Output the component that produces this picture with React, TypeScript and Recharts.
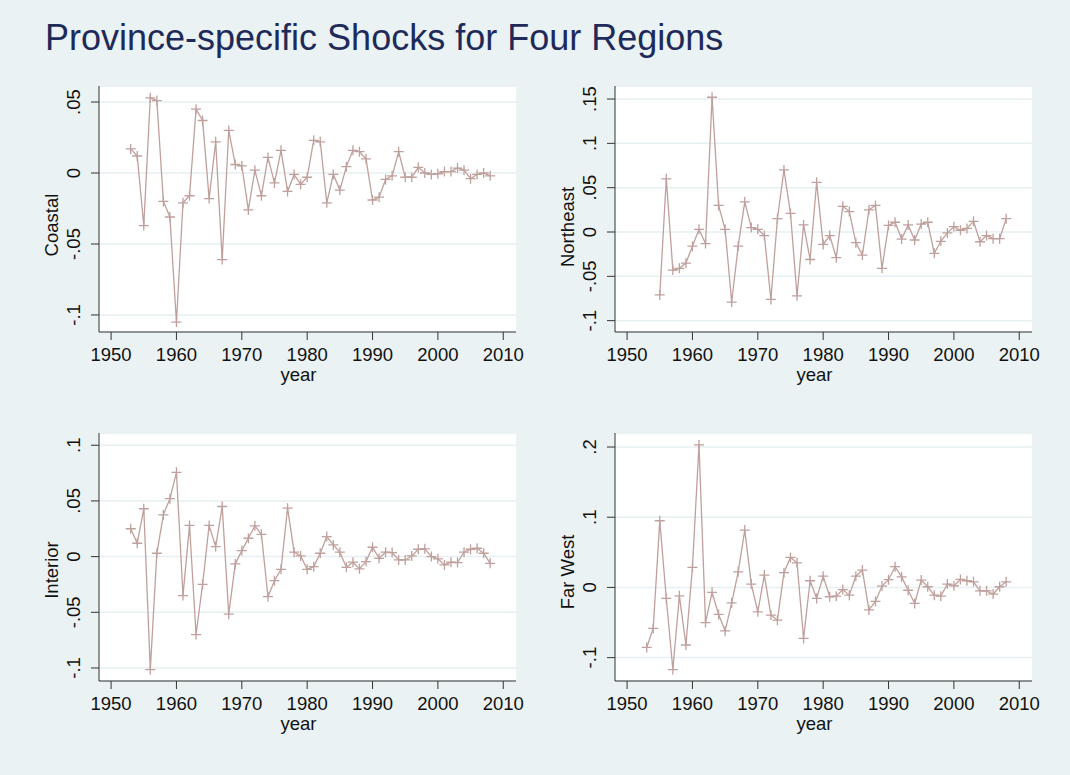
import React from 'react';
import { LineChart, Line, XAxis, YAxis, CartesianGrid, Label } from 'recharts';

const years = [
  1953, 1954, 1955, 1956, 1957, 1958, 1959, 1960, 1961, 1962,
  1963, 1964, 1965, 1966, 1967, 1968, 1969, 1970, 1971, 1972,
  1973, 1974, 1975, 1976, 1977, 1978, 1979, 1980, 1981, 1982,
  1983, 1984, 1985, 1986, 1987, 1988, 1989, 1990, 1991, 1992,
  1993, 1994, 1995, 1996, 1997, 1998, 1999, 2000, 2001, 2002,
  2003, 2004, 2005, 2006, 2007, 2008,
];

// 1953-2008
const coastal = [
  0.017, 0.012, -0.037, 0.053, 0.051, -0.02, -0.031, -0.105, -0.021, -0.016,
  0.045, 0.037, -0.018, 0.022, -0.061, 0.03, 0.006, 0.005, -0.026, 0.002,
  -0.016, 0.011, -0.007, 0.016, -0.013, -0.001, -0.008, -0.003, 0.023, 0.022,
  -0.021, -0.001, -0.012, 0.0045, 0.016, 0.015, 0.01, -0.019, -0.017, -0.0045,
  -0.002, 0.015, -0.003, -0.003, 0.004, 0.0, -0.001, -0.0005, 0.001, 0.001,
  0.0035, 0.002, -0.004, -0.001, 0.0, -0.002,
];

// 1955-2008
const northeast = [
  -0.071, 0.06, -0.043, -0.041, -0.035, -0.016, 0.003, -0.013, 0.152, 0.03,
  0.003, -0.079, -0.016, 0.034, 0.005, 0.003, -0.004, -0.076, 0.015, 0.07,
  0.021, -0.072, 0.008, -0.031, 0.056, -0.014, -0.004, -0.029, 0.029, 0.023,
  -0.012, -0.026, 0.025, 0.03, -0.041, 0.0075, 0.011, -0.008, 0.008, -0.009,
  0.009, 0.011, -0.024, -0.0105, -0.001, 0.006, 0.002, 0.004, 0.012, -0.011,
  -0.004, -0.0075, -0.0075, 0.015,
];

// 1953-2008
const interior = [
  0.025, 0.012, 0.043, -0.1015, 0.003, 0.0375, 0.052, 0.0757, -0.035, 0.028,
  -0.07, -0.025, 0.028, 0.009, 0.045, -0.0517, -0.0066, 0.0054, 0.0165, 0.0276,
  0.02, -0.036, -0.0216, -0.0114, 0.0435, 0.004, 0.0006, -0.0114, -0.009, 0.003,
  0.018, 0.0105, 0.004, -0.0096, -0.005, -0.011, -0.0045, 0.0084, -0.0015, 0.004,
  0.0036, -0.003, -0.003, 0.0006, 0.0066, 0.007, 0.0, -0.002, -0.0075, -0.005,
  -0.0054, 0.004, 0.0066, 0.0075, 0.003, -0.006,
];

// 1953-2008
const farWest = [
  -0.0855, -0.0584, 0.095, -0.0157, -0.117, -0.012, -0.082, 0.0285, 0.203, -0.05,
  -0.007, -0.0385, -0.062, -0.022, 0.0223, 0.0817, 0.0048, -0.0347, 0.0176, -0.0394,
  -0.0466, 0.021, 0.0428, 0.035, -0.0727, 0.0095, -0.0157, 0.016, -0.0133, -0.0124,
  -0.003, -0.011, 0.016, 0.0247, -0.032, -0.02, 0.002, 0.011, 0.0295, 0.015,
  -0.004, -0.0228, 0.0105, 0.001, -0.011, -0.0124, 0.0048, 0.0024, 0.0114, 0.0095,
  0.008, -0.0048, -0.0048, -0.0095, 0.001, 0.008,
];

const xTicks = [1950, 1960, 1970, 1980, 1990, 2000, 2010];
const coastalTicks = [-0.1, -0.05, 0, 0.05];
const northeastTicks = [-0.1, -0.05, 0, 0.05, 0.1, 0.15];
const interiorTicks = [-0.1, -0.05, 0, 0.05, 0.1];
const farWestTicks = [-0.1, 0, 0.1, 0.2];

const BG = '#EAF2F3';
const GRID = '#E6EFF1';
const LINE = '#BFA09D';
const AXIS = '#333333';
const TEXT = '#111111';
const FONT = '"Liberation Sans", Arial, Helvetica, sans-serif';
const FS = 18.5;

const fmt = (v: number) => (v === 0 ? '0' : String(v).replace('0.', '.'));

const toData = (ys: number[], vs: number[]) => vs.map((v, i) => ({ year: ys[i], v }));

function YTick(props: any) {
  const { x, y, payload } = props;
  const bx = x - 9;
  return (
    <text
      x={bx}
      y={y}
      transform={`rotate(-90 ${bx} ${y})`}
      textAnchor="middle"
      fontSize={FS}
      fill={TEXT}
      fontFamily={FONT}
    >
      {fmt(payload.value)}
    </text>
  );
}

function PlusDot(props: any) {
  const { cx, cy, index } = props;
  if (cx == null || cy == null) return <g key={`e${index}`} />;
  const s = 5;
  return (
    <path
      key={`d${index}`}
      d={`M${cx - s},${cy}H${cx + s}M${cx},${cy - s}V${cy + s}`}
      stroke={LINE}
      strokeWidth={1.3}
      fill="none"
    />
  );
}

type PanelProps = {
  left: number;
  top: number;
  width: number;
  height: number;
  plotLeft: number;
  plotTop: number;
  plotRight: number;
  plotBottom: number;
  data: { year: number; v: number }[];
  domain: [number, number];
  ticks: number[];
  title: string;
  titleShift: number;
};

function Panel(p: PanelProps) {
  const yAxisWidth = p.plotLeft - p.left;
  const marginRight = p.left + p.width - p.plotRight;
  const marginTop = p.plotTop - p.top;
  const xAxisHeight = 50;
  const marginBottom = p.top + p.height - p.plotBottom - xAxisHeight;
  const yearX = (p.plotLeft + p.plotRight) / 2 - 9 - p.left;
  const yearY = p.plotBottom + 49 - p.top;
  const titleX = p.plotLeft - 41 - p.left;
  const titleY = (p.plotTop + p.plotBottom) / 2 + p.titleShift - p.top;
  return (
    <div style={{ position: 'absolute', left: p.left, top: p.top, width: p.width, height: p.height }}>
      <LineChart
        width={p.width}
        height={p.height}
        data={p.data}
        margin={{ top: marginTop, right: marginRight, bottom: marginBottom, left: 0 }}
      >
        <CartesianGrid horizontal vertical={false} stroke={GRID} strokeWidth={1.5} fill="#ffffff" />
        <XAxis
          type="number"
          dataKey="year"
          domain={[1948.15, 2011.95]}
          allowDataOverflow
          ticks={xTicks}
          interval={0}
          height={xAxisHeight}
          tickSize={8}
          tickMargin={8}
          stroke={AXIS}
          tick={{ fill: TEXT, fontSize: FS, fontFamily: FONT }}
        >
          <Label
            content={() => (
              <text x={yearX} y={yearY} textAnchor="middle" fontSize={FS} fill={TEXT} fontFamily={FONT}>
                year
              </text>
            )}
          />
        </XAxis>
        <YAxis
          type="number"
          domain={p.domain}
          allowDataOverflow
          ticks={p.ticks}
          interval={0}
          width={yAxisWidth}
          tickSize={8}
          tickMargin={2}
          stroke={AXIS}
          tick={(tp: any) => <YTick {...tp} />}
        >
          <Label
            content={() => (
              <text
                x={titleX}
                y={titleY}
                transform={`rotate(-90 ${titleX} ${titleY})`}
                textAnchor="middle"
                fontSize={FS}
                fill={TEXT}
                fontFamily={FONT}
              >
                {p.title}
              </text>
            )}
          />
        </YAxis>
        <Line
          type="linear"
          dataKey="v"
          stroke={LINE}
          strokeWidth={1.3}
          dot={(dp: any) => <PlusDot {...dp} key={`k${dp.index}`} />}
          activeDot={false}
          isAnimationActive={false}
        />
      </LineChart>
    </div>
  );
}

export default function App() {
  return (
    <div
      style={{
        position: 'absolute',
        left: 0,
        top: 0,
        width: 1070,
        height: 775,
        background: BG,
        overflow: 'hidden',
        fontFamily: FONT,
      }}
    >
      <svg width={1070} height={80} style={{ position: 'absolute', left: 0, top: 0 }}>
        <text x={45} y={50} fontSize={36} fill="#1E2A5A" fontFamily={FONT}>
          Province-specific Shocks for Four Regions
        </text>
      </svg>
      <Panel
        left={0}
        top={0}
        width={535}
        height={400}
        plotLeft={99}
        plotTop={86}
        plotRight={516}
        plotBottom={332}
        data={toData(years, coastal)}
        domain={[-0.112, 0.0613]}
        ticks={coastalTicks}
        title="Coastal"
        titleShift={16}
      />
      <Panel
        left={535}
        top={0}
        width={535}
        height={400}
        plotLeft={615}
        plotTop={86}
        plotRight={1032}
        plotBottom={332}
        data={toData(years.slice(2), northeast)}
        domain={[-0.1128, 0.1647]}
        ticks={northeastTicks}
        title="Northeast"
        titleShift={18}
      />
      <Panel
        left={0}
        top={400}
        width={535}
        height={375}
        plotLeft={99}
        plotTop={433}
        plotRight={516}
        plotBottom={681}
        data={toData(years, interior)}
        domain={[-0.1117, 0.111]}
        ticks={interiorTicks}
        title="Interior"
        titleShift={13}
      />
      <Panel
        left={535}
        top={400}
        width={535}
        height={375}
        plotLeft={615}
        plotTop={433}
        plotRight={1032}
        plotBottom={681}
        data={toData(years, farWest)}
        domain={[-0.1333, 0.22]}
        ticks={farWestTicks}
        title="Far West"
        titleShift={15}
      />
    </div>
  );
}
